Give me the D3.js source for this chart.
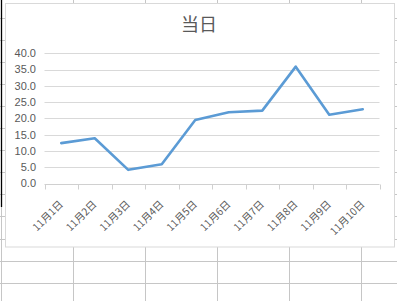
<!DOCTYPE html>
<html><head><meta charset="utf-8">
<script src="https://cdn.jsdelivr.net/npm/d3@7"></script>
<style>html,body{margin:0;padding:0;background:#fff;overflow:hidden}svg{display:block}</style>
</head><body>
<script>
const title = "当日";
const categories = ["11月1日","11月2日","11月3日","11月4日","11月5日","11月6日","11月7日","11月8日","11月9日","11月10日"];
const values = [12.4, 13.9, 4.2, 5.9, 19.5, 21.9, 22.4, 35.9, 21.1, 22.8];
const yTicks = [0, 5, 10, 15, 20, 25, 30, 35, 40];

const W = 397, H = 301;
const svg = d3.select("body").append("svg").attr("width", W).attr("height", H);

// spreadsheet background grid
const colX = [73.5, 145.5, 217.5, 289.5, 361.5];
const rowY = d3.range(13).map(i => Math.round(18 + 22.05 * i) + 0.5);
const bg = svg.append("g");
bg.selectAll("line.c").data(colX).join("line")
  .attr("x1", d => d).attr("x2", d => d).attr("y1", 0).attr("y2", H)
  .attr("stroke", "#c6c6c6").attr("stroke-width", 1);
bg.selectAll("line.r").data(rowY).join("line")
  .attr("x1", 0).attr("x2", W).attr("y1", d => d).attr("y2", d => d)
  .attr("stroke", "#c6c6c6").attr("stroke-width", 1);
bg.append("line").attr("x1", 1.5).attr("x2", 1.5).attr("y1", 207).attr("y2", H)
  .attr("stroke", "#c6c6c6");
bg.append("line").attr("x1", 1.5).attr("x2", 1.5).attr("y1", 0).attr("y2", 207)
  .attr("stroke", "#000").attr("stroke-width", 1.3);

// chart area
svg.append("rect").attr("x", 5.5).attr("y", 3.5).attr("width", 389).attr("height", 243.5)
  .attr("fill", "#fff").attr("stroke", "#d9d9d9").attr("stroke-width", 1);

const x0 = 44.5, x1 = 379.5, yTop = 53.3, yBot = 183.5;
const x = d3.scaleBand().domain(categories).range([x0, x1]).padding(0);
const y = d3.scaleLinear().domain([0, 40]).range([yBot, yTop]);

// horizontal gridlines
svg.append("g").selectAll("line").data(yTicks.filter(d => d > 0)).join("line")
  .attr("x1", x0).attr("x2", x1)
  .attr("y1", d => Math.round(y(d)) + 0.5).attr("y2", d => Math.round(y(d)) + 0.5)
  .attr("stroke", "#d9d9d9").attr("stroke-width", 1);

// x axis line with ticks at band edges
const ay = Math.round(y(0)) + 0.5;
svg.append("line").attr("x1", x0).attr("x2", x1).attr("y1", ay).attr("y2", ay)
  .attr("stroke", "#d0d0d0");
const edges = categories.map(c => x(c)).concat([x1]);
svg.append("g").selectAll("line").data(edges).join("line")
  .attr("x1", d => Math.round(d) + 0.5).attr("x2", d => Math.round(d) + 0.5)
  .attr("y1", ay).attr("y2", ay + 5).attr("stroke", "#d0d0d0");

// y labels
svg.append("g").selectAll("text").data(yTicks).join("text")
  .attr("x", 36).attr("y", d => y(d)).attr("dy", "0.35em")
  .attr("text-anchor", "end")
  .attr("font-family", "Liberation Sans, Arial, sans-serif").attr("font-size", 11)
  .attr("fill", "#595959")
  .text(d => d.toFixed(1));

// x labels rotated
svg.append("g").selectAll("text").data(categories).join("text")
  .attr("transform", d => `translate(${x(d) + x.bandwidth() / 2 + 2.5},${ay + 20.5}) rotate(-45)`)
  .attr("text-anchor", "end")
  .attr("font-family", "Noto Sans CJK SC, sans-serif").attr("font-size", 10.3)
  .attr("fill", "#595959")
  .text(d => d);

// line
const line = d3.line().x((d, i) => x(categories[i]) + x.bandwidth() / 2).y(d => y(d));
svg.append("path").datum(values).attr("d", line)
  .attr("fill", "none").attr("stroke", "#5b9bd5").attr("stroke-width", 2.6)
  .attr("stroke-linejoin", "round").attr("stroke-linecap", "round");

// title
svg.append("text").attr("x", 199).attr("y", 31).attr("text-anchor", "middle")
  .attr("font-family", "Noto Sans CJK SC, sans-serif").attr("font-size", 18)
  .attr("fill", "#595959").text(title);
</script>
</body></html>
